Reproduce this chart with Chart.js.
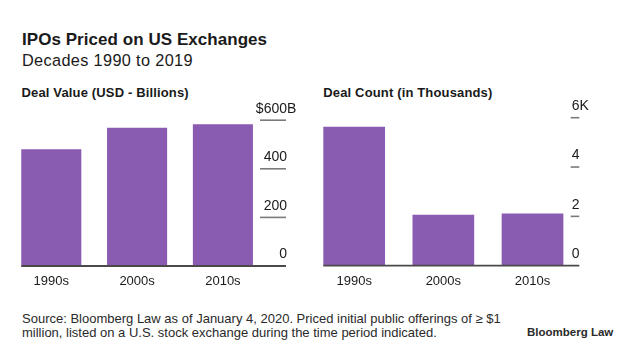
<!DOCTYPE html>
<html>
<head>
<meta charset="utf-8">
<script src="https://cdn.jsdelivr.net/npm/chart.js@4/dist/chart.umd.min.js"></script>
<style>
  html, body { margin: 0; padding: 0; background: #fff; }
  #wrap { position: relative; width: 640px; height: 357px; overflow: hidden; font-family: "Liberation Sans", Arial, sans-serif; color: #1a1a1a; }
  .t { position: absolute; white-space: nowrap; line-height: 1; }
  canvas { position: absolute; }
</style>
</head>
<body>
<div id="wrap">
  <div class="t" style="left:22px;top:30.6px;font-size:17px;font-weight:bold;letter-spacing:0.05px;">IPOs Priced on US Exchanges</div>
  <div class="t" style="left:22px;top:51.5px;font-size:16.3px;letter-spacing:0.35px;">Decades 1990 to 2019</div>
  <div class="t" style="left:21.5px;top:85.7px;font-size:13px;font-weight:bold;letter-spacing:0.15px;">Deal Value (USD - Billions)</div>
  <div class="t" style="left:323.3px;top:85.7px;font-size:13px;font-weight:bold;letter-spacing:0.15px;">Deal Count (in Thousands)</div>
  <canvas id="c1" width="300" height="200" style="left:0px;top:100px;"></canvas>
  <canvas id="c2" width="340" height="200" style="left:300px;top:100px;"></canvas>
  <div class="t" style="left:22px;top:311.5px;font-size:13px;line-height:14.3px;color:#2a2a2a;">Source: Bloomberg Law as of January 4, 2020. Priced initial public offerings of ≥ $1<br>million, listed on a U.S. stock exchange during the time period indicated.</div>
  <div class="t" style="left:527px;top:327px;font-size:11.5px;font-weight:bold;color:#2a2a2a;">Bloomberg Law</div>
</div>
<script>
// ---- data ----
const decades = ['1990s', '2000s', '2010s'];
const dealValueBillions = [480, 569, 583];
const dealCountThousands = [5.63, 2.07, 2.12];
const valueTicks = [0, 200, 400, 600];
const valueTickLabels = ['0', '200', '400', '600'];
const countTicks = [0, 2, 4, 6];
const countTickLabels = ['0', '2', '4', '6K'];

const BAR = '#895bb1';
const FONT = '"Liberation Sans", Arial, sans-serif';

const sideAxis = {
  id: 'sideAxis',
  afterDatasetsDraw(chart, args, o) {
    const ctx = chart.ctx;
    const xs = chart.scales.x, ys = chart.scales.y;
    const meta = chart.getDatasetMeta(0);
    const first = meta.data[0];
    const left = first.x - first.width / 2;
    const ax = chart.chartArea.right + o.axisShift;
    const end = ax + o.tickLen;
    const zeroY = ys.getPixelForValue(0);
    ctx.save();
    // tick lines
    ctx.strokeStyle = '#7a7a7a';
    ctx.lineWidth = 1.6;
    o.ticks.forEach(v => {
      if (v === 0) return;
      const py = ys.getPixelForValue(v);
      ctx.beginPath(); ctx.moveTo(ax, py); ctx.lineTo(end, py); ctx.stroke();
    });
    // baseline
    ctx.strokeStyle = '#4a4a4a';
    ctx.lineWidth = 1.8;
    ctx.beginPath(); ctx.moveTo(left, zeroY); ctx.lineTo(end, zeroY); ctx.stroke();
    // tick labels
    ctx.fillStyle = '#1a1a1a';
    ctx.font = '14px ' + FONT;
    ctx.textBaseline = 'alphabetic';
    o.ticks.forEach((v, i) => {
      const py = ys.getPixelForValue(v) - 7.6;
      const lab = o.labels[i];
      if (o.align === 'right') {
        const rx = end + 1;
        ctx.textAlign = 'right';
        ctx.fillText(lab, rx, py);
        if (i === o.ticks.length - 1) {
          const w = ctx.measureText(lab).width;
          ctx.fillText(o.prefix, rx - w, py);
          ctx.textAlign = 'left';
          ctx.fillText(o.suffix, rx, py);
        }
      } else {
        ctx.textAlign = 'left';
        ctx.fillText(lab, ax + 1, py);
      }
    });
    // category labels
    ctx.font = '13px ' + FONT;
    ctx.textAlign = 'center';
    chart.data.labels.forEach((lab, i) => {
      ctx.fillText(lab, xs.getPixelForValue(i), zeroY + 19);
    });
    ctx.restore();
  }
};

function makeChart(id, data, ticks, labels, max, pad, barPct, axisOpts) {
  return new Chart(document.getElementById(id), {
    type: 'bar',
    data: {
      labels: decades,
      datasets: [{ data: data, backgroundColor: BAR, barPercentage: barPct, categoryPercentage: 1.0, borderWidth: 0 }]
    },
    options: {
      responsive: false,
      animation: false,
      devicePixelRatio: 1,
      layout: { padding: pad },
      plugins: {
        legend: { display: false },
        tooltip: { enabled: false },
        sideAxis: Object.assign({ ticks: ticks, labels: labels }, axisOpts)
      },
      scales: {
        x: { display: false },
        y: { display: false, min: 0, max: max }
      }
    },
    plugins: [sideAxis]
  });
}

makeChart('c1', dealValueBillions, valueTicks, valueTickLabels, 600,
  { left: 8.4, right: 34.2, top: 20.2, bottom: 34 }, 0.70,
  { axisShift: -5.8, tickLen: 26, align: 'right', prefix: '$', suffix: 'B' });

makeChart('c2', dealCountThousands, countTicks, countTickLabels, 6,
  { left: 9.6, right: 62.9, top: 17.7, bottom: 34.3 }, 0.692,
  { axisShift: -6.4, tickLen: 8.6, align: 'left', prefix: '', suffix: '' });
</script>
</body>
</html>
